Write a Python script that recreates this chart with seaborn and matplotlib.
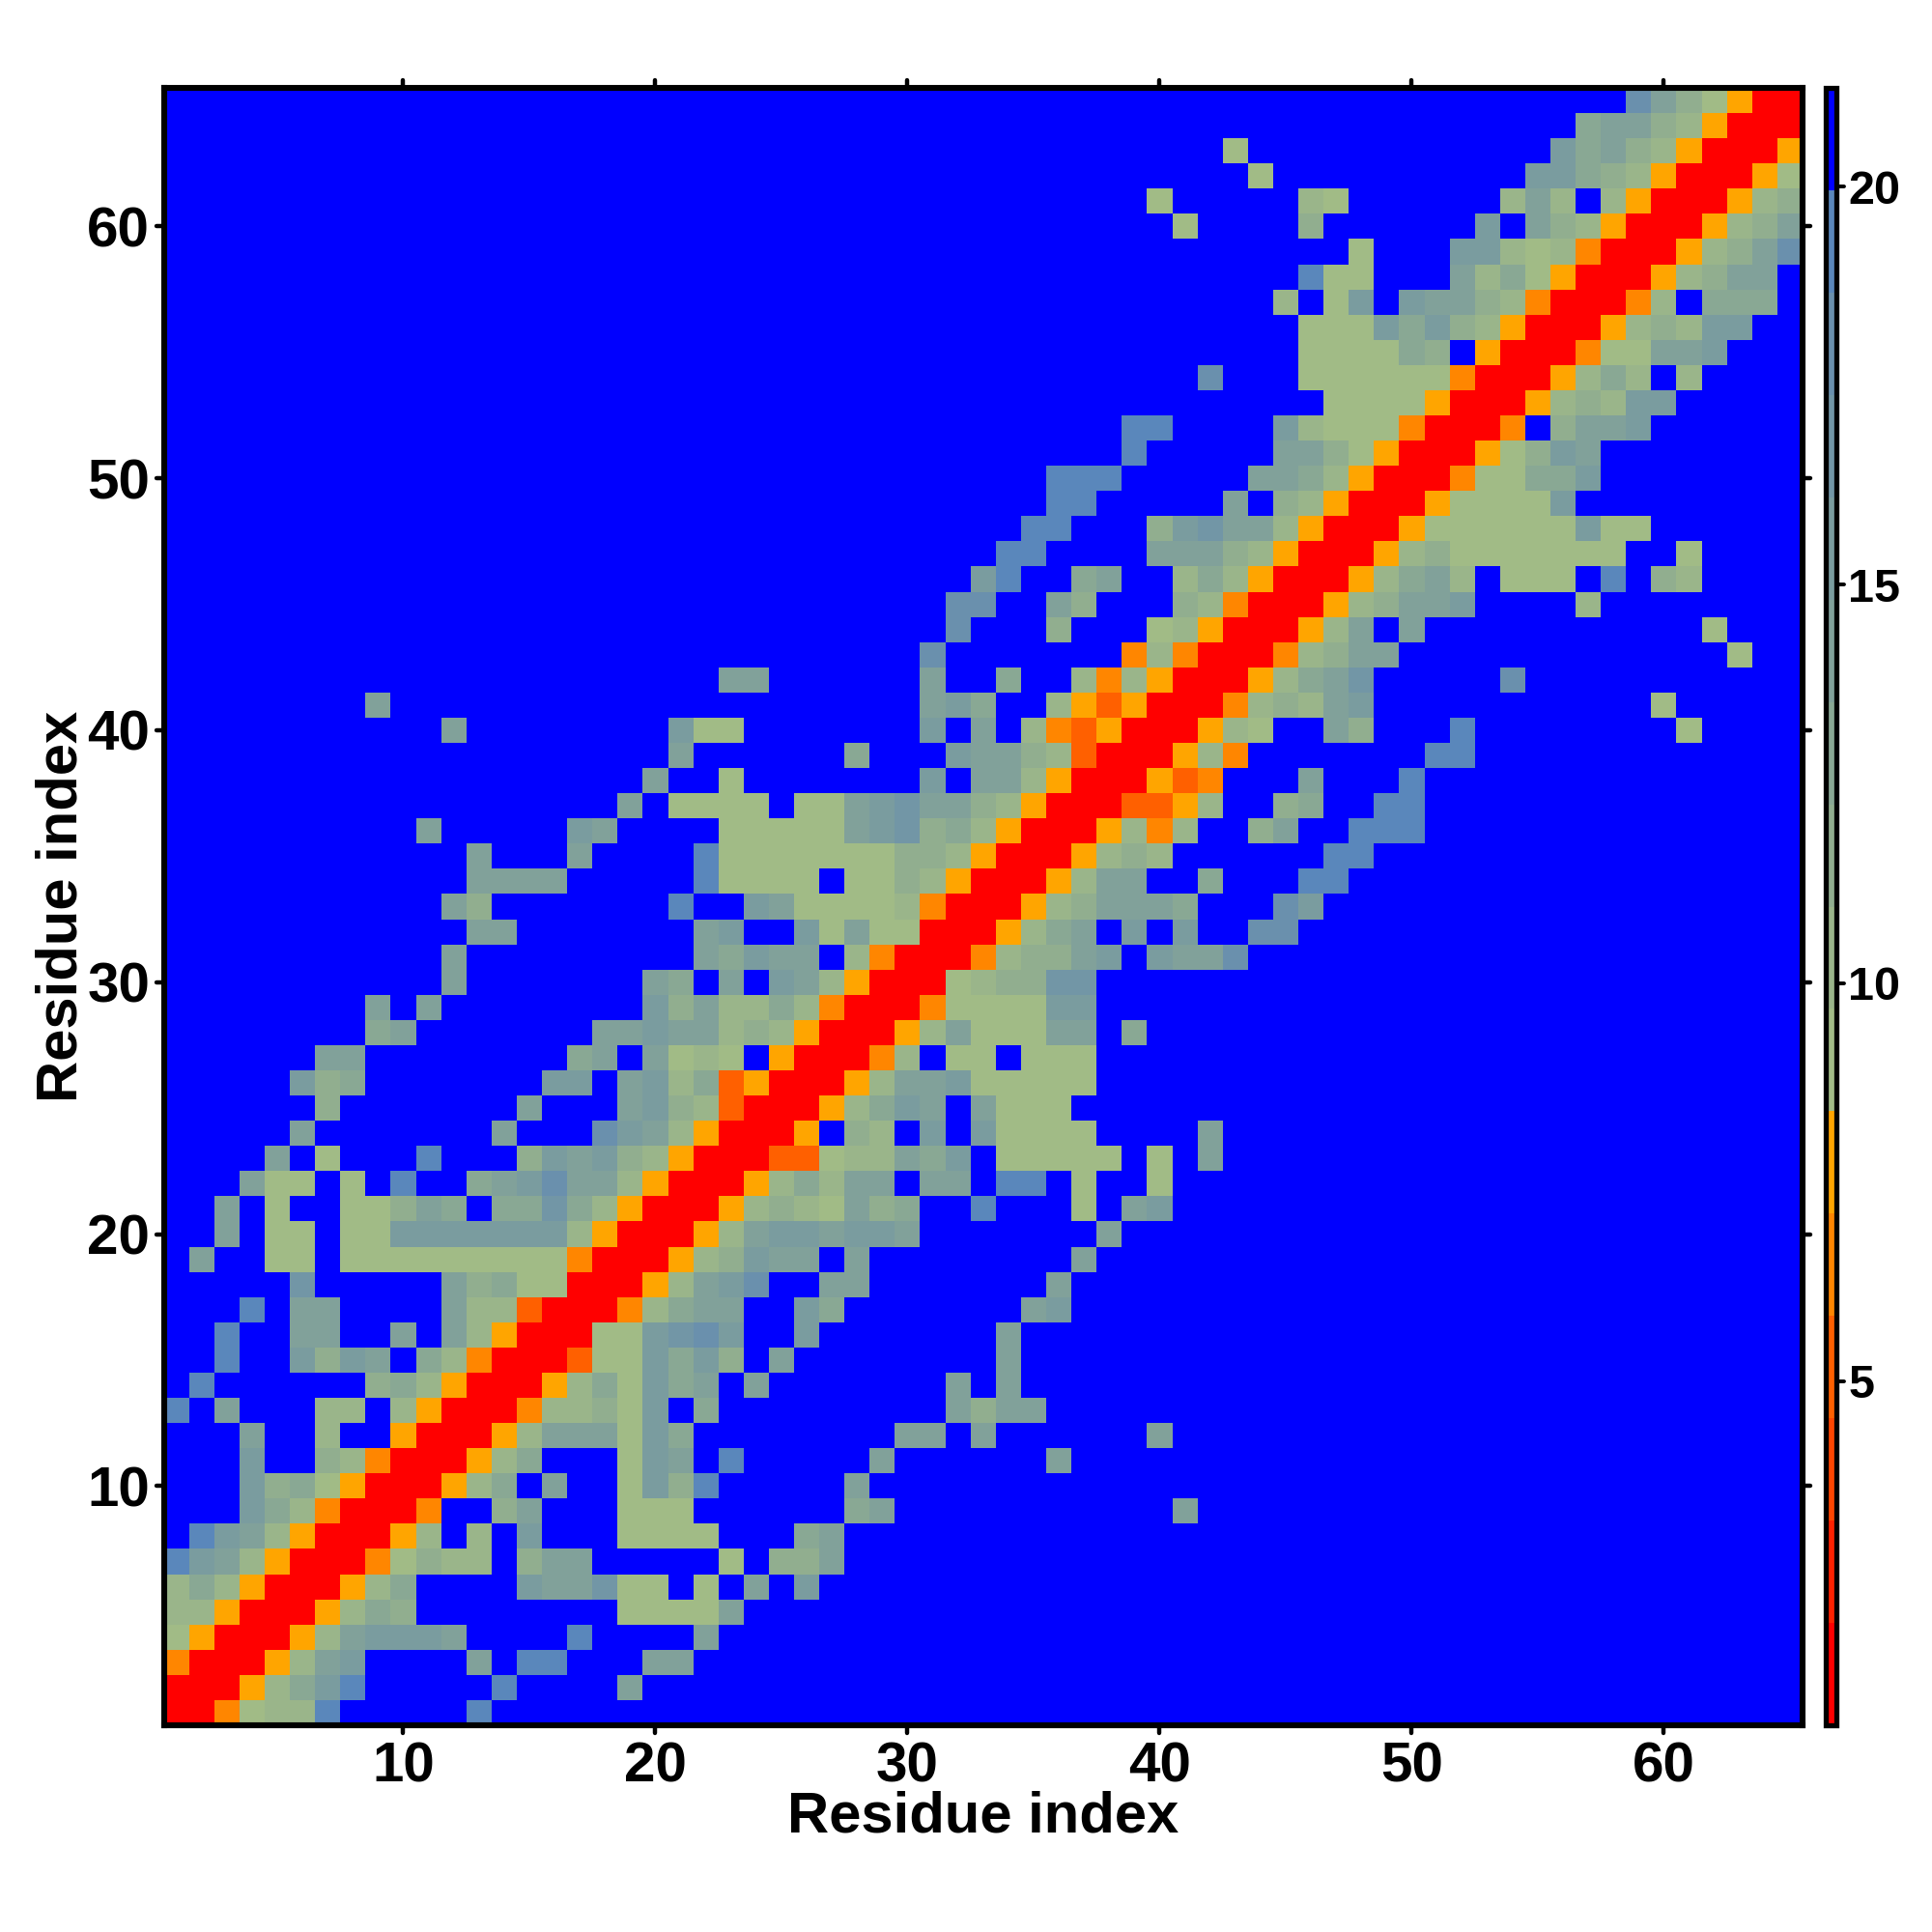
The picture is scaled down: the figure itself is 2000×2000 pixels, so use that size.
import numpy as np
import pandas as pd
import matplotlib
matplotlib.use("Agg")
import matplotlib.pyplot as plt
from matplotlib.colors import ListedColormap
from matplotlib.markers import MarkerStyle
import seaborn as sns

# upper triangle of the map, one string per residue, starting on the diagonal.
# each char is a colour band (hex index into band_colors), missing tail = 'f'
upper_rows = [
    "004677efffffe",
    "00579befffffeffffa",
    "0057abffffafeefffaa",
    "0057abbbaffffeffffa",
    "005798ffffffff6666a",
    "00579ffffbaac66f6fafb",
    "0046877f8aafffff6f88a",
    "0057f7fbfff6666fff9a",
    "004ff8afff666ffffff9afffffffffffa",
    "00579faff6b8efffffa",
    "00579fff6bafefffffaffffffa",
    "0057aaa6b9ffffffffaafaffffffa",
    "0047786bf9fffffffffa8aa",
    "005796b9afafffffffafa",
    "00366b9b8faffffffffa",
    "0066bcdbffbfffffffa",
    "00479aaffb9fffffffab",
    "0057abdffaafffffffa",
    "00578baafaffffffffa",
    "0057abbabbafffffffa",
    "0057876a89ffefff6fab",
    "005797aafaafeef6ff6",
    "0033677a9bf66666f6fa",
    "005f87fbfb6666ffffa",
    "00579bafa666",
    "0057aab66666",
    "0047f66f666",
    "0057a666aaf9",
    "0046666bb",
    "006788cc",
    "004788abfbaad",
    "00579afbfbffdd",
    "00578aaa9fffdb",
    "0057aaff9fffee",
    "005787ffffffee",
    "005747ff8affeee",
    "003357ff89ffee",
    "00534fffafffe",
    "00574fffffffee",
    "00576ffa8fffeffffffff6",
    "004787abfffffffffff6",
    "00579acfffffd",
    "00478aafffffffffffff6",
    "0057afafffffffffff6",
    "00578aabffff7",
    "00579a7f666fef87",
    "005786666666ff6",
    "005666666b66",
    "0056666b",
    "0046699b",
    "00568ba",
    "004f8aab",
    "005787bb",
    "005797f7",
    "00466aab",
    "005787bb",
    "0047f999",
    "00578aa",
    "00578ad",
    "00578a",
    "00578",
    "0056",
    "005",
    "00",
    "0",
]

band_values = [1.3, 2.6, 3.9, 5.2, 6.5, 7.8, 9.1, 10.4, 11.6, 12.9, 14.2, 15.5, 16.8, 18.1, 19.4, 20.7]
band_colors = ["#ff0000", "#ff2200", "#ff4500", "#ff6000", "#ff8600", "#ffa500",
               "#a1bb86", "#9ab58a", "#91ae8f", "#89a894", "#81a19a", "#7a9c9f",
               "#7296a6", "#6a90ad", "#5a87bb", "#0000ff"]
residues = list(range(1, 66))
axis_ticks = [10, 20, 30, 40, 50, 60]
cbar_ticks = [5, 10, 15, 20]

n = len(residues)
mat = np.full((n, n), band_values[-1])
for i, row in enumerate(upper_rows):
    for k, ch in enumerate(row):
        mat[i, i + k] = band_values[int(ch, 16)]
        mat[i + k, i] = band_values[int(ch, 16)]
df = pd.DataFrame(mat, index=residues, columns=residues)

sns.set_style("white")
plt.rcParams['font.family'] = ['Liberation Sans', 'DejaVu Sans']
plt.rcParams['font.weight'] = 'bold'

W = 2000.0
fig = plt.figure(figsize=(10, 10), dpi=200)
ax = fig.add_axes([169.5 / W, 1 - 1786 / W, (1866 - 169.5) / W, (1786 - 91) / W])
cax = fig.add_axes([1890 / W, 1 - 1786 / W, 11 / W, (1786 - 91) / W])

sns.heatmap(df, ax=ax, cbar_ax=cax, cmap=ListedColormap(band_colors),
            vmin=0.68, vmax=21.24, square=False, xticklabels=False, yticklabels=False)
ax.invert_yaxis()

ax.set_xticks([t - 0.5 for t in axis_ticks])
ax.set_yticks([t - 0.5 for t in axis_ticks])
ax.set_xticklabels(axis_ticks, rotation=0)
ax.set_yticklabels(axis_ticks, rotation=0)
ax.tick_params(axis='both', which='major', direction='out', length=3, width=1.6, color='black',
               top=True, right=True, bottom=True, left=True, labelsize=21, pad=3, labelcolor='black')
ax.tick_params(axis='y', pad=2.2)
for s in ax.spines.values():
    s.set_visible(True)
    s.set_linewidth(2.2)
    s.set_color('black')

ax.set_xlabel("Residue index", fontsize=21.5, fontweight='bold', color='black', labelpad=-1)
ax.set_ylabel("Residue index", fontsize=21.5, fontweight='bold', color='black', labelpad=-0.5)

cbar = ax.collections[0].colorbar
cbar.set_ticks(cbar_ticks)
cbar.set_ticklabels(cbar_ticks)
cax.tick_params(axis='y', direction='out', length=3, width=1.4, color='black', right=True, left=False,
                labelsize=17.5, pad=1.5, labelcolor='black')
cbar.outline.set_visible(True)
cbar.outline.set_linewidth(1.9)
cbar.outline.set_edgecolor('black')

# tick ends are rounded in the original
for axis in [ax.xaxis, ax.yaxis, cax.yaxis]:
    for tick in axis.get_major_ticks():
        for line in [tick.tick1line, tick.tick2line]:
            line.set_marker(MarkerStyle(line.get_marker(), capstyle='round'))

fig.savefig("out.png", dpi=200, facecolor='white')
